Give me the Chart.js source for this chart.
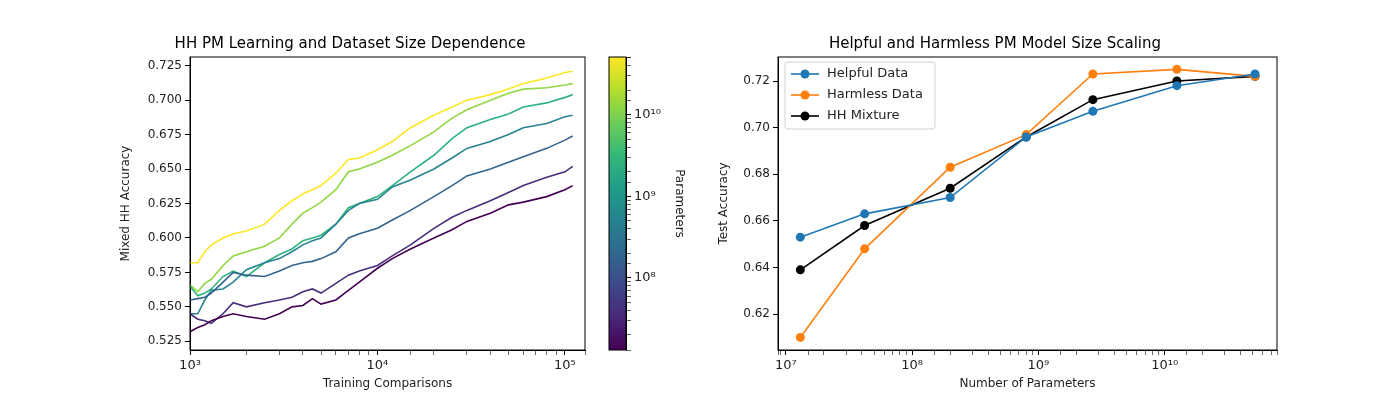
<!DOCTYPE html>
<html>
<head>
<meta charset="utf-8">
<script src="https://cdn.jsdelivr.net/npm/chart.js@4.4.1/dist/chart.umd.min.js"></script>
<style>
  html, body { margin: 0; padding: 0; background: #fff; }
  #wrap { position: relative; width: 1400px; height: 410px; }
  canvas { position: absolute; left: 0; top: 0; }
</style>
</head>
<body>
<div id="wrap">
  <canvas id="left" width="1400" height="410"></canvas>
  <canvas id="cbar" width="1400" height="410"></canvas>
  <canvas id="right" width="1400" height="410"></canvas>
</div>
<script>
// left panel: accuracy vs training comparisons, one curve per model size
const trainX = [1000, 1100, 1200, 1300, 1500, 1700, 2000, 2500, 3000, 3500, 4000, 4500, 5000, 6000,
  7000, 8000, 10000, 12000, 15000, 20000, 25000, 30000, 40000, 50000, 60000, 80000, 100000, 110000];
const acc13M = [.532, .535, .537, .540, .543, .545, .543, .541, .545, .550, .551, .556, .552, .555,
  .562, .568, .578, .585, .592, .600, .606, .612, .618, .624, .626, .630, .635, .638];
const acc42M = [.545, .541, .540, .538, .545, .553, .550, .553, .555, .557, .561, .563, .560, .567,
  .573, .576, .580, .587, .595, .607, .615, .620, .627, .633, .638, .644, .648, .652];
const acc200M = [.555, .556, .557, .560, .568, .575, .573, .572, .576, .580, .582, .583, .585, .590,
  .600, .603, .607, .613, .620, .630, .638, .645, .650, .655, .659, .665, .671, .674];
const acc800M = [.545, .545, .555, .562, .563, .568, .577, .582, .585, .590, .595, .598, .600, .610,
  .620, .625, .628, .637, .642, .650, .658, .665, .670, .675, .680, .683, .688, .689];
const acc2700M = [.565, .558, .560, .563, .572, .576, .572, .582, .588, .592, .598, .600, .602, .610,
  .622, .625, .630, .638, .648, .660, .672, .680, .686, .690, .695, .698, .702, .704];
const acc12B = [.566, .561, .567, .570, .580, .587, .590, .594, .600, .610, .618, .622, .626, .635,
  .648, .650, .655, .660, .667, .677, .687, .693, .700, .705, .708, .709, .711, .712];
const acc52B = [.582, .582, .590, .595, .600, .603, .605, .610, .620, .627, .632, .635, .638, .647,
  .657, .658, .664, .670, .680, .689, .695, .700, .704, .708, .712, .716, .720, .721];
const curveColors = ["#440154", "#472d7b", "#33638d", "#26838f", "#2db27d", "#90d743", "#fde725"];

// right panel: test accuracy vs model size
const paramsX = [1.3e7, 4.2e7, 2.0e8, 8.0e8, 2.7e9, 1.25e10, 5.2e10];
const helpfulAcc = [.653, .663, .670, .696, .707, .718, .723];
const harmlessAcc = [.610, .648, .683, .697, .723, .725, .722];
const mixtureAcc = [.639, .658, .674, .696, .712, .720, .722];

const sup = {"0": "⁰", "1": "¹", "2": "²", "3": "³", "4": "⁴", "5": "⁵", "6": "⁶", "7": "⁷", "8": "⁸", "9": "⁹"};
const powLabel = v => {
  const e = Math.log10(v);
  if (Math.abs(e - Math.round(e)) > 1e-6) return "";
  return "10" + String(Math.round(e)).split("").map(c => sup[c]).join("");
};

Chart.defaults.font.family = "'DejaVu Sans', sans-serif";
Chart.defaults.font.size = 12;
Chart.defaults.color = "#222";
Chart.defaults.animation = false;

const frame = {
  id: "frame",
  afterDraw(c) {
    const a = c.chartArea, ctx = c.ctx;
    ctx.save();
    ctx.strokeStyle = "#000";
    ctx.lineWidth = 1;
    ctx.strokeRect(a.left, a.top, a.right - a.left, a.bottom - a.top);
    ctx.restore();
  }
};

const fixW = w => s => { s.width = w; };
const fixH = h => s => { s.height = h; };

function tickGrid(major) {
  return {
    drawOnChartArea: false,
    drawTicks: true,
    tickLength: 5,
    color: "#000",
    lineWidth: ctx => (ctx.tick && major(ctx.tick.value) ? 1 : 0.6)
  };
}
const isDecade = v => Math.abs(Math.log10(v) - Math.round(Math.log10(v))) < 1e-6;

const leftSets = [acc13M, acc42M, acc200M, acc800M, acc2700M, acc12B, acc52B].map((ys, i) => ({
  data: trainX.map((x, j) => ({ x, y: ys[j] })),
  borderColor: curveColors[i],
  borderWidth: 1.6,
  pointRadius: 0,
  tension: 0
}));

const titleOpts = text => ({
  display: true, text, font: { size: 15, weight: "normal" }, color: "#000", padding: { top: 0, bottom: 4 }
});

new Chart(document.getElementById("left"), {
  type: "line",
  data: { datasets: leftSets },
  options: {
    responsive: false,
    layout: { padding: { left: 115, right: 815, top: 35, bottom: 15 } },
    plugins: {
      legend: { display: false },
      tooltip: { enabled: false },
      title: titleOpts("HH PM Learning and Dataset Size Dependence")
    },
    scales: {
      x: {
        type: "logarithmic", min: 1000, max: 1.28e5,
        afterFit: fixH(45),
        grid: tickGrid(isDecade),
        border: { color: "#000" },
        ticks: { autoSkip: false, maxRotation: 0, font: { size: 13 }, callback: v => powLabel(v) },
        title: { display: true, text: "Training Comparisons", font: { size: 12 }, padding: { top: 2 } }
      },
      y: {
        min: .5187, max: .7313,
        afterFit: fixW(75),
        afterBuildTicks: s => { s.ticks = [.525, .55, .575, .6, .625, .65, .675, .7, .725].map(v => ({ value: v })); },
        grid: tickGrid(() => true),
        border: { color: "#000" },
        ticks: { callback: v => v.toFixed(3) },
        title: { display: true, text: "Mixed HH Accuracy", font: { size: 12 } }
      }
    }
  },
  plugins: [frame]
});

// colorbar
const viridis = ["#440154", "#482878", "#3e4989", "#31688e", "#26828e", "#1f9e89", "#35b779", "#6ece58", "#b5de2b", "#fde725"];
const cbMin = Math.pow(10, 7.117), cbMax = Math.pow(10, 10.71);
new Chart(document.getElementById("cbar"), {
  type: "scatter",
  data: { datasets: [] },
  options: {
    responsive: false,
    layout: { padding: { left: 609, right: 1400 - 626 - 62, top: 57, bottom: 60 } },
    plugins: { legend: { display: false }, tooltip: { enabled: false } },
    scales: {
      x: { display: false, min: 0, max: 1 },
      y: {
        type: "logarithmic", position: "right", min: cbMin, max: cbMax,
        afterFit: fixW(62),
        grid: tickGrid(isDecade),
        border: { color: "#000" },
        ticks: { autoSkip: false, font: { size: 13 }, callback: v => powLabel(v) },
        title: { display: true, text: "Parameters", font: { size: 12 }, padding: 2 }
      }
    }
  },
  plugins: [{
    id: "grad",
    beforeDraw(c) {
      const a = c.chartArea, ctx = c.ctx;
      const g = ctx.createLinearGradient(0, a.bottom, 0, a.top);
      viridis.forEach((col, i) => g.addColorStop(i / (viridis.length - 1), col));
      ctx.fillStyle = g;
      ctx.fillRect(a.left, a.top, a.right - a.left, a.bottom - a.top);
    },
    afterDraw(c) {
      const a = c.chartArea, ctx = c.ctx;
      ctx.strokeStyle = "#000";
      ctx.lineWidth = 1;
      ctx.strokeRect(a.left, a.top, a.right - a.left, a.bottom - a.top);
    }
  }]
});

// right panel
const seriesDefs = [
  { label: "Helpful Data", ys: helpfulAcc, color: "#1f77b4" },
  { label: "Harmless Data", ys: harmlessAcc, color: "#ff7f0e" },
  { label: "HH Mixture", ys: mixtureAcc, color: "#000000" }
];

const innerLegend = {
  id: "innerLegend",
  afterDraw(c) {
    const a = c.chartArea, ctx = c.ctx;
    const x0 = a.left + 7, y0 = a.top + 5, w = 150, h = 67;
    ctx.save();
    ctx.fillStyle = "rgba(255,255,255,0.8)";
    ctx.strokeStyle = "#d0d0d0";
    ctx.lineWidth = 1;
    ctx.beginPath();
    ctx.roundRect(x0, y0, w, h, 3);
    ctx.fill();
    ctx.stroke();
    ctx.font = "13px 'DejaVu Sans', sans-serif";
    ctx.textBaseline = "middle";
    seriesDefs.forEach((s, i) => {
      const y = y0 + 12 + i * 21;
      ctx.strokeStyle = s.color;
      ctx.lineWidth = 1.6;
      ctx.beginPath();
      ctx.moveTo(x0 + 6, y);
      ctx.lineTo(x0 + 34, y);
      ctx.stroke();
      ctx.fillStyle = s.color;
      ctx.beginPath();
      ctx.arc(x0 + 20, y, 4.5, 0, Math.PI * 2);
      ctx.fill();
      ctx.fillStyle = "#222";
      ctx.fillText(s.label, x0 + 42, y);
    });
    ctx.restore();
  }
};

new Chart(document.getElementById("right"), {
  type: "line",
  data: {
    datasets: seriesDefs.map(s => ({
      label: s.label,
      data: paramsX.map((x, j) => ({ x, y: s.ys[j] })),
      borderColor: s.color,
      backgroundColor: s.color,
      borderWidth: 1.6,
      pointRadius: 4.5,
      pointBorderWidth: 0,
      tension: 0
    }))
  },
  options: {
    responsive: false,
    layout: { padding: { left: 713, right: 123, top: 35, bottom: 15 } },
    plugins: {
      legend: { display: false },
      tooltip: { enabled: false },
      title: titleOpts("Helpful and Harmless PM Model Size Scaling")
    },
    scales: {
      x: {
        type: "logarithmic", min: Math.pow(10, 6.937), max: Math.pow(10, 10.89),
        afterFit: fixH(45),
        grid: tickGrid(isDecade),
        border: { color: "#000" },
        ticks: { autoSkip: false, maxRotation: 0, font: { size: 13 }, callback: v => powLabel(v) },
        title: { display: true, text: "Number of Parameters", font: { size: 12 }, padding: { top: 2 } }
      },
      y: {
        min: .6046, max: .7303,
        afterFit: fixW(65),
        afterBuildTicks: s => { s.ticks = [.62, .64, .66, .68, .70, .72].map(v => ({ value: v })); },
        grid: tickGrid(() => true),
        border: { color: "#000" },
        ticks: { callback: v => v.toFixed(2) },
        title: { display: true, text: "Test Accuracy", font: { size: 12 } }
      }
    }
  },
  plugins: [frame, innerLegend]
});
</script>
</body>
</html>
